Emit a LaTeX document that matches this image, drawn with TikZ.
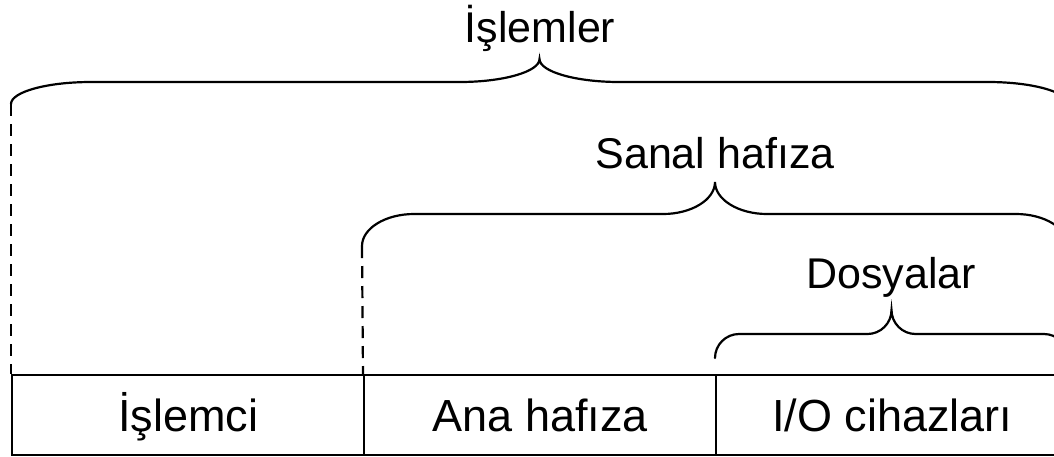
\documentclass[tikz,border=0pt]{standalone}
\usepackage{fontspec}
\setmainfont{Liberation Sans}
\newcommand\bracepath[7]{% name, x1, x2, yend, yline, ytip, rx
  \draw[bracestyle] ({#2},{#4}) coordinate (#1L)
    .. controls ({#2},{#4-0.55*(#4-#5)}) and ({#2+0.45*#7},{#5}) .. ({#2+#7},{#5})
    -- ({(#2+#3)/2-#7},{#5})
    .. controls ({(#2+#3)/2-0.45*#7},{#5}) and ({(#2+#3)/2},{#6+0.55*(#5-#6)}) .. ({(#2+#3)/2},{#6}) coordinate (#1T)
    .. controls ({(#2+#3)/2},{#6+0.55*(#5-#6)}) and ({(#2+#3)/2+0.45*#7},{#5}) .. ({(#2+#3)/2+#7},{#5})
    -- ({#3-#7},{#5})
    .. controls ({#3-0.45*#7},{#5}) and ({#3},{#4-0.55*(#4-#5)}) .. ({#3},{#4}) coordinate (#1R);}
\begin{document}
\begin{tikzpicture}[x=1pt,y=-1pt,
  bracestyle/.style={line width=2.2pt, line cap=round},
  cell/.style={draw, line width=2.4pt, minimum width=352pt, minimum height=80pt, inner sep=0pt, anchor=north west, text height=40pt, text depth=8pt, font=\fontsize{45}{54}\selectfont},
  lbl/.style={inner sep=0pt, anchor=base, font=\fontsize{43}{52}\selectfont},
  guide/.style={line width=2.2pt, dash pattern=on 12pt off 8pt}]
\useasboundingbox (0,0) rectangle (1054,456);
\clip (0,0) rectangle (1054,456);
\node[cell] (cpu) at (11,374) {İşlemci};
\node[cell] (mem) at (363,374) {Ana hafıza};
\node[cell] (io) at (715,374) {I/O cihazları};
\bracepath{b1}{11}{1068}{104}{82}{59}{80}
\bracepath{b2}{362}{1068}{246}{214}{182}{52}
\bracepath{b3}{715}{1068}{358}{334}{310}{24}
\node[lbl] (t1) at (540,42) {İşlemler};
\node[lbl] (t2) at (715,168) {Sanal hafıza};
\node[lbl] (t3) at (891,288) {Dosyalar};
\draw[guide] (b1L) -- (cpu.north west);
\draw[guide] (b2L) -- (mem.north west);
\end{tikzpicture}
\end{document}
